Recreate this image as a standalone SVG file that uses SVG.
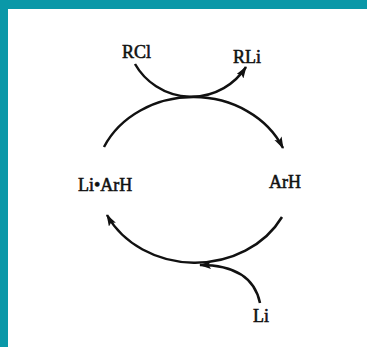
<svg xmlns="http://www.w3.org/2000/svg" width="367" height="347" viewBox="0 0 367 347">
  <style>
    .lbl { font-family: "Liberation Serif", "Times New Roman", serif; font-size: 18px; fill: #111; stroke: #111; stroke-width: 0.55; }
    .arc { fill: none; stroke: #111; stroke-width: 2.5; }
  </style>
  <defs>
    <marker id="ah" markerUnits="userSpaceOnUse" markerWidth="14" markerHeight="10" refX="11" refY="4" orient="auto">
      <path d="M0,0 L12,4 L0,8 L2.5,4 Z" fill="#111"/>
    </marker>
  </defs>
  <rect x="0" y="0" width="367" height="347" fill="#0a98a8"/>
  <rect x="8" y="9" width="359" height="338" fill="#ffffff"/>
  <g id="connectors">
    <path class="arc" d="M104,147 A98,85 0 0 1 283,148" marker-end="url(#ah)"/>
    <path class="arc" d="M282,217 A98,85 0 0 1 107,215" marker-end="url(#ah)"/>
    <path class="arc" d="M135,64 A65,65 0 0 0 246,67" marker-end="url(#ah)"/>
    <path class="arc" d="M260,303 Q252,265 200,265" marker-end="url(#ah)"/>
  </g>
  <g id="node-RCl"><text class="lbl" x="122" y="58">RCl</text></g>
  <g id="node-RLi"><text class="lbl" x="233" y="63">RLi</text></g>
  <g id="node-LiArH"><text class="lbl" x="78" y="191">Li•ArH</text></g>
  <g id="node-ArH"><text class="lbl" x="269" y="188">ArH</text></g>
  <g id="node-Li"><text class="lbl" x="253" y="322">Li</text></g>
</svg>
